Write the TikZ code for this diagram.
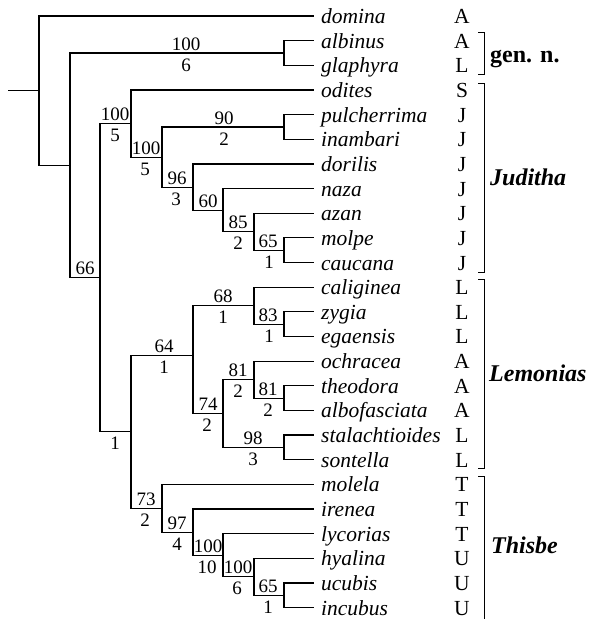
\documentclass[tikz,border=0pt]{standalone}
\usepackage{fontspec}
\setmainfont{Liberation Serif}
\begin{document}
\begin{tikzpicture}[x=1pt,y=-1pt,
  br/.style={line width=1.2pt},
  brk/.style={line width=1pt},
  sp/.style={anchor=west, inner xsep=7pt, inner ysep=0pt, text height=15pt, text depth=0pt, font=\fontsize{21.5}{24}\selectfont\itshape},
  code/.style={anchor=base, inner sep=0pt, font=\fontsize{21.5}{24}\selectfont},
  bs/.style={anchor=base, inner sep=0pt, font=\fontsize{19}{20}\selectfont},
  grp/.style={anchor=base west, inner sep=0pt, font=\fontsize{24}{26}\selectfont\bfseries}]
\useasboundingbox (0,0) rectangle (592,619);
% leaves and distribution codes
\foreach \nm/\cd [count=\i] in {domina/A,albinus/A,glaphyra/L,odites/S,pulcherrima/J,inambari/J,dorilis/J,naza/J,azan/J,molpe/J,caucana/J,caliginea/L,zygia/L,egaensis/L,ochracea/A,theodora/A,albofasciata/A,stalachtioides/L,sontella/L,molela/T,irenea/T,lycorias/T,hyalina/U,ucubis/U,incubus/U}{
  \pgfmathsetmacro\yy{16+24.65*(\i-1)}
  \node[sp] (\nm) at (314,\yy) {\nm};
  \node[code] (c\i) at (462,\yy+7.5) {\cd};
}
% internal nodes
\coordinate (root0) at (8,90.6);
\coordinate (R) at (39,90.6);
\coordinate (N1) at (70,165.2);
\coordinate (G) at (284,53);
\coordinate (N66) at (100,277.4);
\coordinate (J1) at (131,123.6);
\coordinate (J2) at (162,157.1);
\coordinate (P) at (284,127);
\coordinate (J3) at (193,187.2);
\coordinate (J4) at (223,210.2);
\coordinate (J5) at (254,231.8);
\coordinate (J6) at (284,250.2);
\coordinate (L0) at (131,431.6);
\coordinate (L1) at (193,355.3);
\coordinate (L2) at (254,305.7);
\coordinate (L3) at (284,324.2);
\coordinate (L4) at (223,413.6);
\coordinate (L5) at (254,379.6);
\coordinate (L6) at (284,398.1);
\coordinate (L7) at (284,447.4);
\coordinate (T1) at (162,508.3);
\coordinate (T2) at (193,532.1);
\coordinate (T3) at (223,555.2);
\coordinate (T4) at (254,576.8);
\coordinate (T5) at (284,595.3);
% branches
\draw[br] (root0) -- (R);
\foreach \a/\b in {R/domina.west,R/N1,N1/G,N1/N66,G/albinus.west,G/glaphyra.west,
  N66/J1,N66/L0,J1/odites.west,J1/J2,J2/P,J2/J3,P/pulcherrima.west,P/inambari.west,
  J3/dorilis.west,J3/J4,J4/naza.west,J4/J5,J5/azan.west,J5/J6,J6/molpe.west,J6/caucana.west,
  L0/L1,L0/T1,L1/L2,L1/L4,L2/caliginea.west,L2/L3,L3/zygia.west,L3/egaensis.west,
  L4/L5,L4/L7,L5/ochracea.west,L5/L6,L6/theodora.west,L6/albofasciata.west,
  L7/stalachtioides.west,L7/sontella.west,
  T1/molela.west,T1/T2,T2/irenea.west,T2/T3,T3/lycorias.west,T3/T4,T4/hyalina.west,T4/T5,
  T5/ucubis.west,T5/incubus.west}
  \draw[br] (\a) |- (\b);
% support labels (above: bootstrap, below: decay)
\foreach \nm/\x/\y/\t in {
  aG/186/53/100, aJ1/115/123.6/100, aJ2/146/157.1/100, aP/224/127/90,
  aJ3/177/187.2/96, aJ4/208/210.2/60, aJ5/238/231.8/85, aJ6/268/250.2/65,
  aN66/85/277.4/66, aL1/164/355.3/64, aL2/223/305.7/68, aL3/268/324.2/83,
  aL4/208/413.6/74, aL5/238/379.6/81, aL6/268/398.1/81, aL7/253/447.4/98,
  aT1/146/508.3/73, aT2/177/532.1/97, aT3/208/555.2/100, aT4/238/576.8/100, aT5/268/595.3/65}
  \node[bs] (\nm) at (\x,\y-3) {\t};
\foreach \nm/\x/\y/\t in {
  dG/186/53/6, dJ1/115/123.6/5, dJ2/145/157.1/5, dP/224/127/2,
  dJ3/176/187.2/3, dJ5/238/231.8/2, dJ6/269/250.2/1,
  dL0/115/431.6/1, dL1/164/355.3/1, dL2/223/305.7/1, dL3/269/324.2/1,
  dL4/207/413.6/2, dL5/238/379.6/2, dL6/268/398.1/2, dL7/253/447.4/3,
  dT1/145/508.3/2, dT2/177/532.1/4, dT3/207/555.2/10, dT4/237/576.8/6, dT5/268/595.3/1}
  \node[bs] (\nm) at (\x,\y+18) {\t};
% brackets
\draw[brk] (478,32.7) -- (484,32.7) -- (484,74.2) -- (478,74.2);
\draw[brk] (478,83) -- (484,83) -- (484,272) -- (478,272);
\draw[brk] (478,279.3) -- (484,279.3) -- (484,468.5) -- (478,468.5);
\draw[brk] (478,476.5) -- (484,476.5) -- (484,619);
% group names
\node[grp] (gen) at (490,62) {gen. n.};
\node[grp] (jud) at (490,185) {\itshape Juditha};
\node[grp] (lem) at (489,381) {\itshape Lemonias};
\node[grp] (thi) at (491,553) {\itshape Thisbe};
\end{tikzpicture}
\end{document}
